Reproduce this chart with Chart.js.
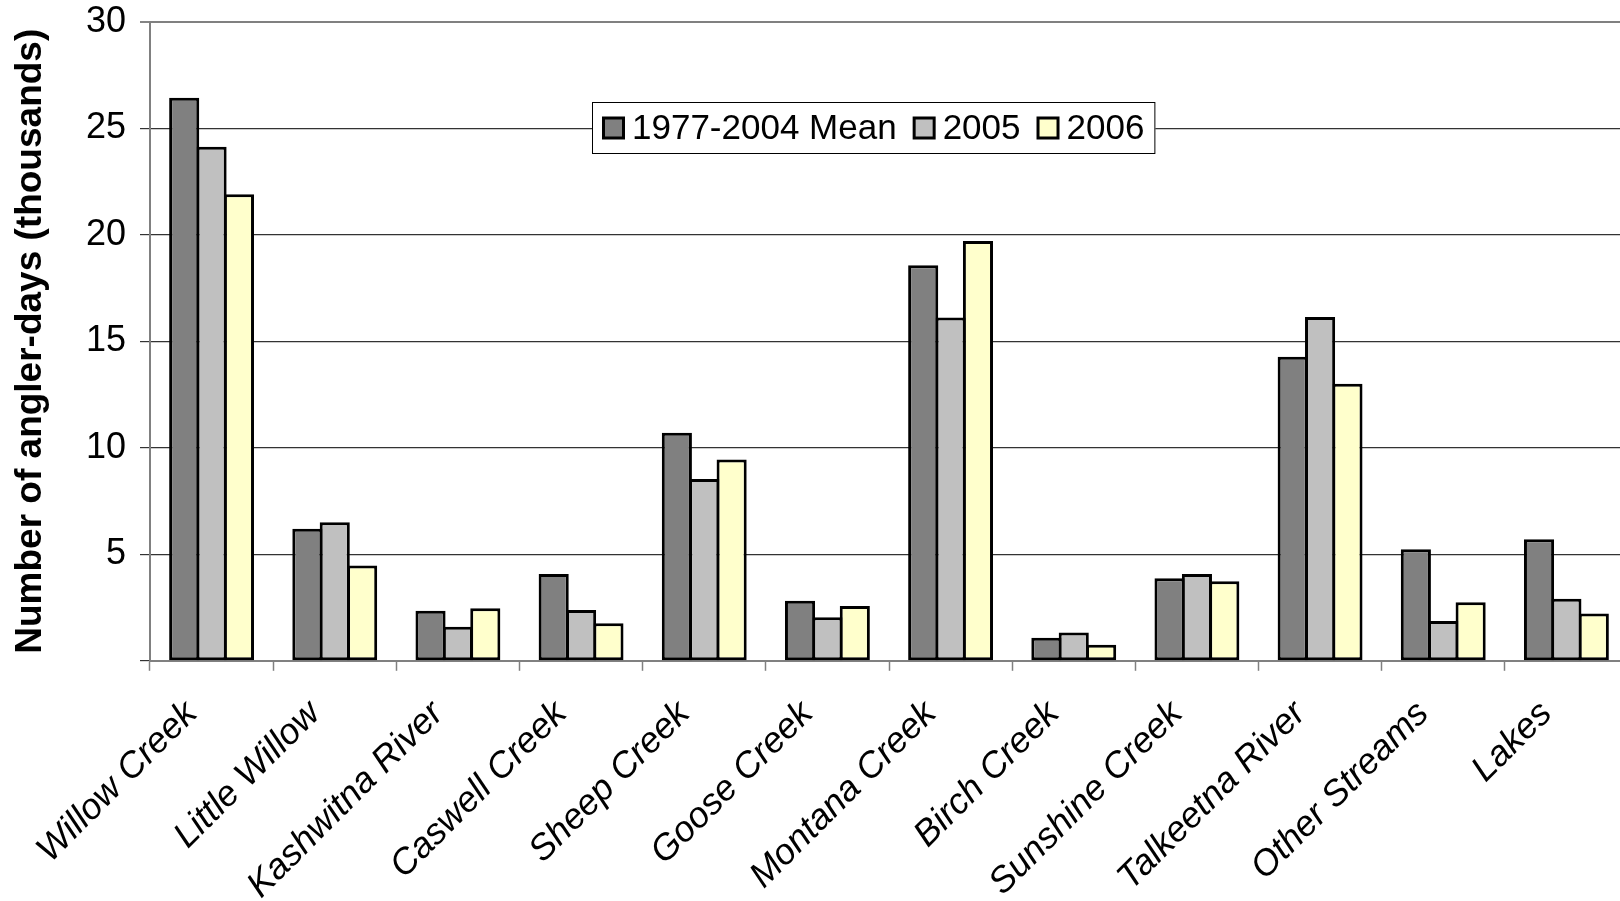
<!DOCTYPE html>
<html>
<head>
<meta charset="utf-8">
<title>Angler-days by fishery</title>
<script src="https://cdn.jsdelivr.net/npm/chart.js@4.4.1/dist/chart.umd.min.js"></script>
<style>
  html, body { margin: 0; padding: 0; background: #fff; overflow: hidden; }
  body { width: 1620px; height: 901px; }
  #wrap { position: absolute; left: 0; top: 0; width: 1628px; height: 901px; }
</style>
</head>
<body>
<div id="wrap"><canvas id="chart" width="1628" height="901"></canvas></div>
<script>
// Fishery names along the x axis
const categories = [
  'Willow Creek', 'Little Willow', 'Kashwitna River', 'Caswell Creek',
  'Sheep Creek', 'Goose Creek', 'Montana Creek', 'Birch Creek',
  'Sunshine Creek', 'Talkeetna River', 'Other Streams', 'Lakes'
];

// Angler-days, thousands
const mean1977to2004 = [26.43, 6.2, 2.35, 4.07, 10.7, 2.82, 18.57, 1.08, 3.87, 14.27, 5.24, 5.7];
const values2005     = [24.13, 6.5, 1.6, 2.38, 8.53, 2.05, 16.12, 1.33, 4.07, 16.14, 1.87, 2.91];
const values2006     = [21.9, 4.47, 2.47, 1.76, 9.45, 2.57, 19.7, 0.75, 3.73, 13.0, 2.75, 2.22];

const seriesNames = ['1977-2004 Mean', '2005', '2006'];
const yTicks = [0, 5, 10, 15, 20, 25, 30];

const FONT = '"Liberation Sans", Arial, Helvetica, sans-serif';

// Boxed legend placed inside the plot area
const boxedLegend = {
  id: 'boxedLegend',
  afterDatasetsDraw(chart) {
    const ctx = chart.ctx;
    const area = chart.chartArea;
    const boxX = area.left + 442, boxY = 102, boxH = 52;
    const marker = 23, padL = 10, gapText = 7, gapItem = 16, padR = 11;
    ctx.save();
    ctx.font = '35px ' + FONT;
    let w = padL;
    chart.data.datasets.forEach((ds, i) => {
      w += marker + gapText + ctx.measureText(ds.label).width;
      if (i < chart.data.datasets.length - 1) w += gapItem;
    });
    w += padR;
    ctx.fillStyle = '#fff';
    ctx.fillRect(boxX, boxY, w, boxH);
    ctx.strokeStyle = '#000';
    ctx.lineWidth = 1;
    ctx.strokeRect(boxX + 0.5, boxY + 0.5, w - 1, boxH - 1);
    let x = boxX + padL;
    const cy = boxY + boxH / 2;
    ctx.textBaseline = 'middle';
    ctx.textAlign = 'left';
    chart.data.datasets.forEach((ds) => {
      ctx.fillStyle = '#000';
      ctx.fillRect(x, cy - marker / 2, marker, marker);
      ctx.fillStyle = ds.backgroundColor;
      ctx.fillRect(x + 3, cy - marker / 2 + 3, marker - 6, marker - 6);
      x += marker + gapText;
      ctx.fillStyle = '#000';
      ctx.fillText(ds.label, x, cy + 1);
      x += ctx.measureText(ds.label).width + gapItem;
    });
    ctx.restore();
  }
};

const barStyle = { borderColor: '#000', borderWidth: 3, borderSkipped: false };

new Chart(document.getElementById('chart'), {
  type: 'bar',
  data: {
    labels: categories,
    datasets: [
      { label: seriesNames[0], data: mean1977to2004, backgroundColor: '#808080', ...barStyle },
      { label: seriesNames[1], data: values2005, backgroundColor: '#C0C0C0', ...barStyle },
      { label: seriesNames[2], data: values2006, backgroundColor: '#FFFFCC', ...barStyle }
    ]
  },
  options: {
    responsive: false,
    animation: false,
    devicePixelRatio: 1,
    layout: { padding: { top: 21.7, left: 0, right: 0, bottom: 0 } },
    datasets: { bar: { categoryPercentage: 0.667, barPercentage: 1.1 } },
    plugins: { legend: { display: false }, tooltip: { enabled: false } },
    scales: {
      x: {
        grid: {
          offset: true,
          drawOnChartArea: false,
          drawTicks: true,
          tickLength: 10,
          tickColor: '#808080',
          tickWidth: 1.5
        },
        border: { color: '#808080', width: 2 },
        ticks: {
          autoSkip: false,
          minRotation: 45,
          maxRotation: 45,
          padding: 22,
          labelOffset: -20,
          color: '#000',
          font: { family: FONT, size: 36, style: 'italic' }
        },
        afterFit(scale) {
          scale.height = 901 - 660.8;
          scale.paddingLeft = 0;
          scale.paddingRight = 0;
        }
      },
      y: {
        min: 0,
        max: 30,
        afterBuildTicks(scale) { scale.ticks = yTicks.map(v => ({ value: v })); },
        grid: {
          color: ctx => {
            if (!ctx.tick) return '#333';
            if (ctx.tick.value === 0) return 'rgba(0,0,0,0)';
            return ctx.tick.value === 30 ? '#808080' : '#333';
          },
          lineWidth: ctx => (ctx.tick && ctx.tick.value === 30) ? 2 : 1.2,
          drawTicks: true,
          tickLength: 10,
          tickColor: '#333',
          tickWidth: 1.2
        },
        border: { color: '#808080', width: 2 },
        ticks: {
          padding: 14,
          color: '#000',
          font: { family: FONT, size: 36 },
          callback: v => (v === 0 ? '' : String(v))
        },
        title: {
          display: true,
          text: 'Number of angler-days (thousands)',
          color: '#000',
          font: { family: FONT, size: 37, weight: 'bold', lineHeight: 1.2 },
          padding: { top: 9, bottom: 0 }
        },
        afterFit(scale) {
          scale.width = 150;
          scale.paddingTop = 0;
          scale.paddingBottom = 0;
        }
      }
    }
  },
  plugins: [boxedLegend]
});
</script>
</body>
</html>
